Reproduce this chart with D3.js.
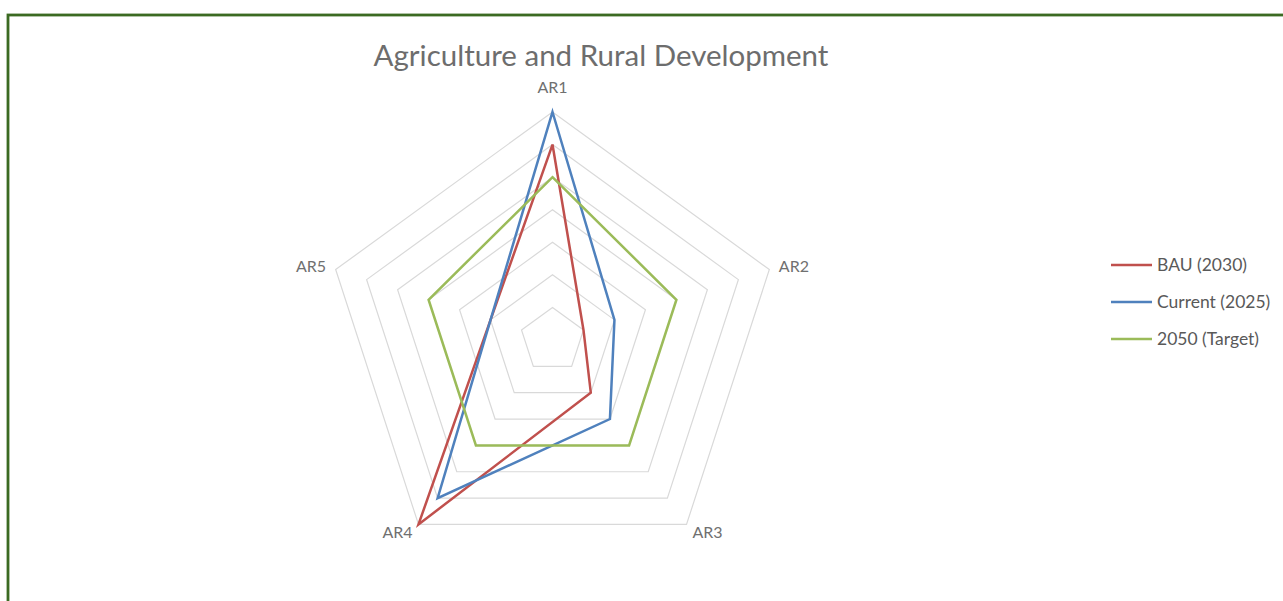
<!DOCTYPE html>
<html>
<head>
<meta charset="utf-8">
<script src="https://cdn.jsdelivr.net/npm/d3@7"></script>
<style>
  html, body { margin: 0; padding: 0; background: #fff; }
  svg { display: block; }
</style>
</head>
<body>
<svg id="chart" width="1283" height="601"></svg>
<script>
// Radar chart data
const axes = ["AR1", "AR2", "AR3", "AR4", "AR5"];
const seriesNames = ["BAU (2030)", "Current (2025)", "2050 (Target)"];
const bauValues = [6, 1, 2, 7, 2];
const currentValues = [7, 2, 3, 6, 2];
const targetValues = [5, 4, 4, 4, 4];
const gridLevels = [1, 2, 3, 4, 5, 6, 7];
const seriesColors = ["#C0504D", "#4F81BD", "#9BBB59"];

const series = [bauValues, currentValues, targetValues];

const svg = d3.select("#chart");
const font = "Lato, 'Open Sans', sans-serif";

// Frame
svg.append("rect")
  .attr("x", 8).attr("y", 15)
  .attr("width", 1300).attr("height", 620)
  .attr("fill", "#fff")
  .attr("stroke", "#3B6A22").attr("stroke-width", 2.8);

// Title
svg.append("text")
  .attr("x", 601).attr("y", 66)
  .attr("text-anchor", "middle")
  .attr("font-family", font)
  .attr("font-size", 29.5)
  .attr("fill", "#6d6d6d")
  .text("Agriculture and Rural Development");

const cx = 552.5, cy = 340, R = 228;
const r = d3.scaleLinear().domain([0, 7]).range([0, R]);
const angle = d3.scaleLinear().domain([0, axes.length]).range([0, 2 * Math.PI]);

const g = svg.append("g").attr("transform", `translate(${cx},${cy})`);

const radial = d3.lineRadial()
  .angle((d, i) => angle(i))
  .radius(d => r(d))
  .curve(d3.curveLinearClosed);

// Grid rings
g.selectAll("path.ring")
  .data(gridLevels)
  .join("path")
  .attr("class", "ring")
  .attr("d", lv => radial(axes.map(() => lv)))
  .attr("fill", "none")
  .attr("stroke", "#D9D9D9")
  .attr("stroke-width", 1.2);

// Axis labels
g.selectAll("text.axis")
  .data(axes)
  .join("text")
  .attr("class", "axis")
  .each(function (d, i) {
    const a = angle(i);
    const s = Math.sin(a), c = Math.cos(a);
    const pad = Math.abs(s) < 0.01 ? 25 : 10;
    d3.select(this)
      .attr("x", (R + pad) * s)
      .attr("y", -(R + pad) * c)
      .attr("dy", "0.35em")
      .attr("text-anchor", Math.abs(s) < 0.01 ? "middle" : (s > 0 ? "start" : "end"));
  })
  .attr("font-family", font)
  .attr("font-size", 16)
  .attr("fill", "#707070")
  .text(d => d);

// Series lines
g.selectAll("path.series")
  .data(series)
  .join("path")
  .attr("class", "series")
  .attr("d", vals => radial(vals))
  .attr("fill", "none")
  .attr("stroke", (d, i) => seriesColors[i])
  .attr("stroke-width", 2.5)
  .attr("stroke-linejoin", "miter");

// Legend
const legend = svg.append("g").attr("transform", "translate(1111,265)");
const legendY = d3.scalePoint().domain(seriesNames).range([0, 74]);
const items = legend.selectAll("g")
  .data(seriesNames)
  .join("g")
  .attr("transform", d => `translate(0,${legendY(d)})`);
items.append("line")
  .attr("x1", 0).attr("x2", 41)
  .attr("stroke", (d, i) => seriesColors[i])
  .attr("stroke-width", 2.5);
items.append("text")
  .attr("x", 46).attr("dy", "0.35em")
  .attr("font-family", font)
  .attr("font-size", 17.5)
  .attr("fill", "#595959")
  .text(d => d);
</script>
</body>
</html>
